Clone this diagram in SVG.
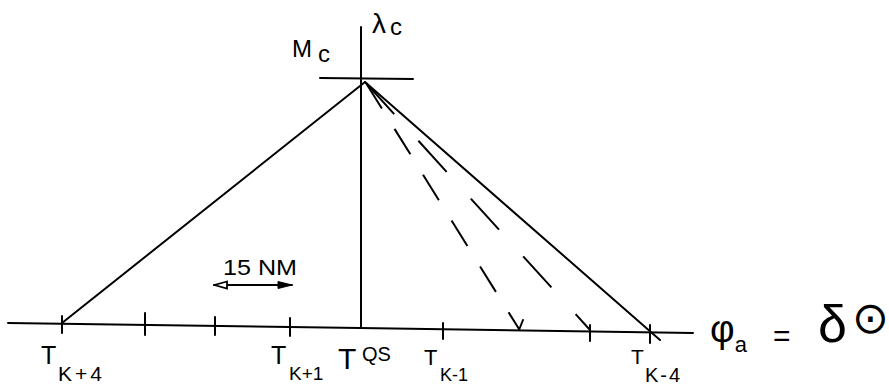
<svg xmlns="http://www.w3.org/2000/svg" width="889" height="386" viewBox="0 0 889 386">
<defs>
<style>
.ln{stroke:#000;stroke-width:2;fill:none;stroke-linecap:round}
.dash{stroke:#000;stroke-width:2;fill:none}
.t{font-family:"Liberation Sans",Arial,sans-serif;fill:#000}
</style>
<marker id="openL" viewBox="0 0 16 10" refX="1" refY="5" markerWidth="16" markerHeight="10" markerUnits="userSpaceOnUse" orient="auto">
<path d="M14,1.5 L1.5,5 L14,8.5 Z" fill="#fff" stroke="#000" stroke-width="1.8"/>
</marker>
<marker id="fillR" viewBox="0 0 16 10" refX="15" refY="5" markerWidth="16" markerHeight="10" markerUnits="userSpaceOnUse" orient="auto">
<path d="M1,1.5 L15,5 L1,8.5 Z" fill="#000" stroke="#000" stroke-width="1"/>
</marker>
</defs>
<rect width="889" height="386" fill="#fff"/>
<g id="connectors">
<polyline class="ln" points="8,323 360,328 693,333"/>
<line class="ln" x1="361" y1="27" x2="361" y2="328"/>
<line class="ln" x1="320" y1="78" x2="413" y2="79"/>
<line class="ln" x1="365" y1="82" x2="62" y2="323"/>
<line class="ln" x1="365" y1="82" x2="660" y2="340"/>
<line class="dash" x1="366" y1="83" x2="519" y2="329" stroke-dasharray="30 24"/>
<line class="dash" x1="366" y1="83" x2="590" y2="330" stroke-dasharray="42 36"/>
<line class="ln" x1="62" y1="316" x2="62" y2="333"/>
<line class="ln" x1="145" y1="313" x2="145" y2="335"/>
<line class="ln" x1="215" y1="317" x2="215" y2="335"/>
<line class="ln" x1="290" y1="318" x2="290" y2="336"/>
<line class="ln" x1="443" y1="323" x2="443" y2="339"/>
<line class="ln" x1="519" y1="330" x2="523" y2="320"/>
<line class="ln" x1="590" y1="325" x2="590" y2="341"/>
<line class="ln" x1="650" y1="325" x2="650" y2="343"/>
<line class="ln" x1="214" y1="285" x2="292" y2="285" marker-start="url(#openL)" marker-end="url(#fillR)"/>
</g>
<g id="label-Mc"><text class="t" x="292" y="57" font-size="24">M<tspan font-size="24" dx="6" dy="5">c</tspan></text></g>
<g id="label-lambda"><text class="t" x="372" y="33" font-size="28">λ<tspan font-size="24" dx="4" dy="2">c</tspan></text></g>
<g id="label-15NM"><text class="t" x="223" y="275" font-size="22" textLength="74" lengthAdjust="spacingAndGlyphs">15 NM</text></g>
<g id="node-Tk4"><text class="t" x="41" y="364" font-size="25">T<tspan x="58" y="381" font-size="21" letter-spacing="3">K+4</tspan></text></g>
<g id="node-Tk1p"><text class="t" x="271" y="364" font-size="25">T<tspan x="289" y="380" font-size="19">K+1</tspan></text></g>
<g id="node-Tqs"><text class="t" x="338" y="369" font-size="30">T<tspan x="362" y="361" font-size="20">QS</tspan></text></g>
<g id="node-Tk1m"><text class="t" x="424" y="365" font-size="22">T<tspan x="440" y="381" font-size="18">K-1</tspan></text></g>
<g id="node-Tk4m"><text class="t" x="631" y="364" font-size="21">T<tspan x="645" y="382" font-size="20" letter-spacing="2">K-4</tspan></text></g>
<g id="label-formula">
<text class="t" x="710" y="342" font-size="38">φ<tspan font-size="22" dx="0" dy="10">a</tspan></text>
<text class="t" x="773" y="346" font-size="30">=</text>
<text class="t" x="818" y="342" font-size="52">δ</text>
<text x="852" y="333" font-size="44" style="font-family:'DejaVu Sans',sans-serif">⊙</text>
</g>
</svg>
